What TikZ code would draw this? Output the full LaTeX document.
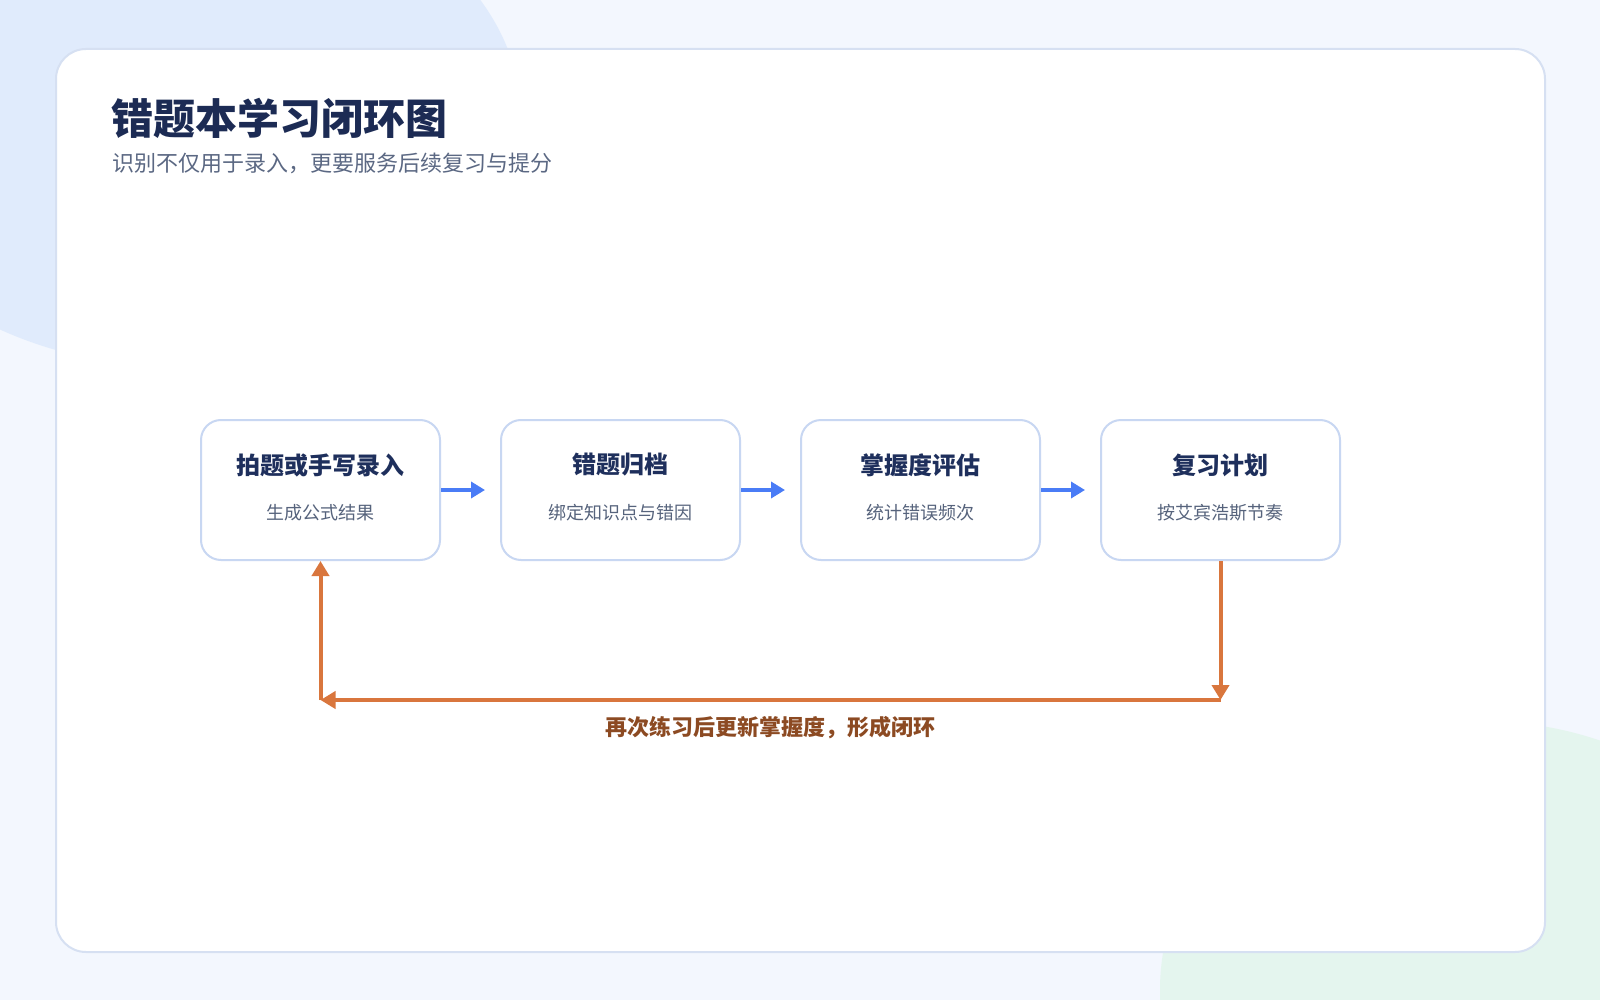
\documentclass[tikz,border=0pt]{standalone}
\usepackage{fontspec}
\setmainfont{Noto Sans CJK SC}
\usetikzlibrary{arrows.meta}

\definecolor{pagebg}{HTML}{F3F7FE}
\definecolor{blobblue}{HTML}{E0EBFC}
\definecolor{blobgreen}{HTML}{E4F5EE}
\definecolor{cardline}{HTML}{D6E0F2}
\definecolor{boxline}{HTML}{C8D7F2}
\definecolor{headink}{HTML}{1C2B54}
\definecolor{subink}{HTML}{5B6883}
\definecolor{titleink}{HTML}{1E2F5C}
\definecolor{noteink}{HTML}{56637C}
\definecolor{flowblue}{HTML}{4A7CF6}
\definecolor{looporange}{HTML}{D9763D}
\definecolor{loopink}{HTML}{8C4A22}

\begin{document}
\begin{tikzpicture}[x=1pt, y=-1pt,
  stagebox/.style={draw=boxline, line width=2pt, fill=white, rounded corners=20pt, minimum width=239pt, minimum height=140pt, inner sep=0pt},
  stagetitle/.style={font=\fontsize{24}{28}\selectfont\bfseries, text=titleink, inner sep=0pt},
  stagenote/.style={font=\fontsize{18}{22}\selectfont, text=noteink, inner sep=0pt},
  flowarrow/.style={draw=flowblue, line width=4pt, -{Triangle[length=14pt,width=16pt]}, shorten >=15pt},
  looparrow/.style={draw=looporange, line width=4pt, -{Triangle[length=15pt,width=17pt]}}]
\useasboundingbox (0,0) rectangle (1600,1000);
\fill[pagebg] (0,0) rectangle (1600,1000);
\begin{scope}
\clip (0,0) rectangle (1600,1000);
\fill[blobblue] (180,118) ellipse [x radius=341, y radius=249];
\fill[blobgreen] (1480,990) ellipse [x radius=320, y radius=269];
\end{scope}
\draw[cardline, line width=2pt, fill=white, rounded corners=30pt] (56,49) rectangle (1545,952);
\node[anchor=west, inner sep=0pt, text=headink, font=\fontsize{42}{50}\selectfont\bfseries] (heading) at (111,118) {错题本学习闭环图};
\node[anchor=west, inner sep=0pt, text=subink, font=\fontsize{22}{26}\selectfont] (subheading) at (112,163) {识别不仅用于录入，更要服务后续复习与提分};
\node[stagebox] (step1) at (320.5,490) {};
\node[stagebox] (step2) at (620.5,490) {};
\node[stagebox] (step3) at (920.5,490) {};
\node[stagebox] (step4) at (1220.5,490) {};
\node[stagetitle] (step1title) at (320.5,465) {拍题或手写录入};
\node[stagenote] (step1note) at (320.5,513) {生成公式结果};
\node[stagetitle] (step2title) at (620.5,465) {错题归档};
\node[stagenote] (step2note) at (620.5,513) {绑定知识点与错因};
\node[stagetitle] (step3title) at (920.5,465) {掌握度评估};
\node[stagenote] (step3note) at (920.5,513) {统计错误频次};
\node[stagetitle] (step4title) at (1220.5,465) {复习计划};
\node[stagenote] (step4note) at (1220.5,513) {按艾宾浩斯节奏};
\draw[flowarrow] (step1.east) -- (step2.west);
\draw[flowarrow] (step2.east) -- (step3.west);
\draw[flowarrow] (step3.east) -- (step4.west);
\coordinate (loopright) at (1220.5,700);
\coordinate (loopleft) at (320.5,700);
\draw[looparrow] (step4.south) -- (loopright);
\draw[looparrow] (loopright) -- (loopleft);
\draw[looparrow] (loopleft) -- (step1.south);
\node[text=loopink, inner sep=0pt, font=\fontsize{22}{26}\selectfont\bfseries] (looplabel) at (770.5,728) {再次练习后更新掌握度，形成闭环};
\end{tikzpicture}
\end{document}
